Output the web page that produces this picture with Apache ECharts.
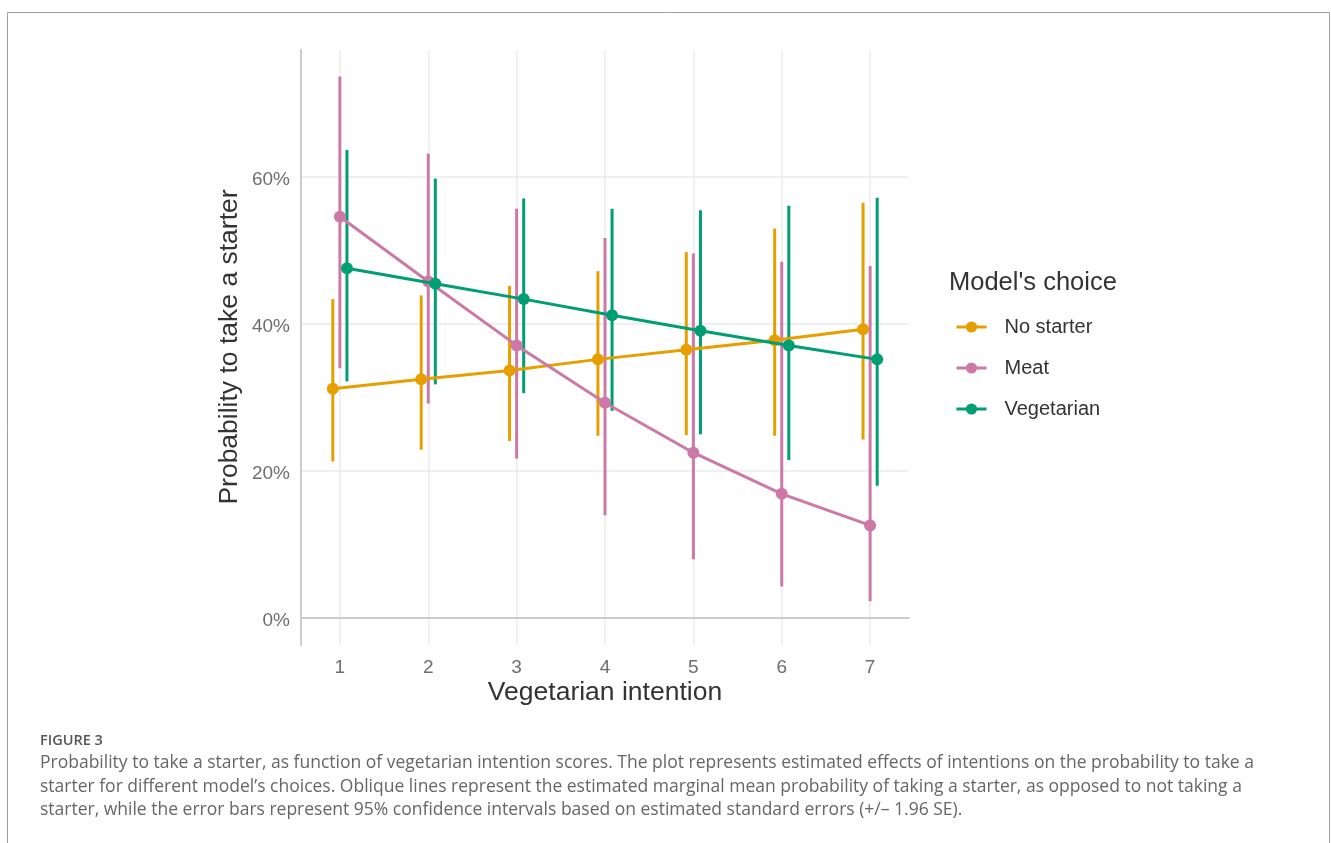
<!DOCTYPE html>
<html>
<head>
<meta charset="utf-8">
<script src="https://cdn.jsdelivr.net/npm/echarts@6/dist/echarts.min.js"></script>
<style>html,body{margin:0;padding:0;background:#fff;}#c{width:1331px;height:843px;}</style>
</head>
<body>
<div id="c"></div>
<script>
// ---- data (percent) ----
const intention = [1, 2, 3, 4, 5, 6, 7];
const seriesNames = ['No starter', 'Meat', 'Vegetarian'];
const noStarterMean = [31.2, 32.5, 33.7, 35.2, 36.5, 37.8, 39.3];
const noStarterLow  = [21.3, 22.9, 24.1, 24.8, 24.9, 24.8, 24.3];
const noStarterHigh = [43.4, 43.9, 45.2, 47.2, 49.8, 53.0, 56.5];
const meatMean = [54.6, 45.8, 37.1, 29.3, 22.5, 16.9, 12.6];
const meatLow  = [34.0, 29.2, 21.7, 14.0, 8.0, 4.3, 2.3];
const meatHigh = [73.7, 63.2, 55.7, 51.7, 49.6, 48.5, 47.9];
const vegMean = [47.6, 45.5, 43.4, 41.2, 39.1, 37.1, 35.2];
const vegLow  = [32.2, 31.8, 30.6, 28.2, 25.0, 21.5, 18.0];
const vegHigh = [63.7, 59.8, 57.1, 55.7, 55.5, 56.1, 57.2];
const yTicks = [0, 20, 40, 60];

// ---- styling / layout ----
const colors = ['#E69F00', '#CC79A7', '#009E73'];
const dodge = [-0.08, 0, 0.08];
const means = [noStarterMean, meatMean, vegMean];
const lows = [noStarterLow, meatLow, vegLow];
const highs = [noStarterHigh, meatHigh, vegHigh];
const sans = '"Liberation Sans", Arial, sans-serif';
const captionFont = '"Open Sans", Lato, sans-serif';

const series = [];
series.push({
  type: 'line', name: '_grid', data: [], silent: true, z: 0,
  markLine: {
    silent: true, symbol: 'none', label: {show: false}, z: 0, zlevel: 0,
    lineStyle: {color: '#ebebeb', width: 1.5, type: 'solid'},
    emphasis: {disabled: true},
    data: intention.map(v => ({xAxis: v})).concat(yTicks.map(v => ({yAxis: v})))
  }
});
seriesNames.forEach((name, s) => {
  series.push({
    type: 'custom', name: name + ' CI', z: 2, silent: true,
    data: intention.map((x, i) => [x + dodge[s], lows[s][i], highs[s][i]]),
    encode: {x: 0, y: [1, 2]},
    renderItem: function (params, api) {
      const p1 = api.coord([api.value(0), api.value(1)]);
      const p2 = api.coord([api.value(0), api.value(2)]);
      return {type: 'line', shape: {x1: p1[0], y1: p1[1], x2: p2[0], y2: p2[1]},
        style: {stroke: colors[s], lineWidth: 3}};
    }
  });
});
seriesNames.forEach((name, s) => {
  series.push({
    type: 'line', name: name, z: 3 + s,
    data: intention.map((x, i) => [x + dodge[s], means[s][i]]),
    symbol: 'circle', symbolSize: 12,
    itemStyle: {color: colors[s]},
    lineStyle: {color: colors[s], width: 3},
    emphasis: {disabled: true}
  });
});

const chart = echarts.init(document.getElementById('c'), null, {renderer: 'canvas'});
chart.setOption({
  animation: false,
  backgroundColor: '#fff',
  color: colors,
  textStyle: {fontFamily: sans},
  grid: {left: 301, top: 50, width: 608, height: 595, containLabel: false},
  xAxis: {
    type: 'value', min: 0.56, max: 7.44,
    axisLine: {show: true, lineStyle: {color: '#cccccc', width: 2}},
    axisTick: {show: false},
    splitLine: {show: false},
    axisLabel: {customValues: intention, color: '#6e6e6e', fontSize: 19, margin: 13, fontFamily: sans}
  },
  yAxis: {
    type: 'value', min: -3.67, max: 77.3,
    axisLine: {show: true, lineStyle: {color: '#cccccc', width: 2}},
    axisTick: {show: false},
    splitLine: {show: false},
    axisLabel: {customValues: yTicks, formatter: '{t|{value}%}', color: '#6e6e6e', fontSize: 19, margin: 11,
      fontFamily: sans,
      rich: {t: {color: '#6e6e6e', fontSize: 19, fontFamily: sans, padding: [6, 0, 0, 0]}}}
  },
  legend: {
    data: seriesNames, orient: 'vertical', left: 955, top: 316, padding: 0,
    itemWidth: 30, itemHeight: 14, itemGap: 19, selectedMode: false,
    lineStyle: {width: 3},
    textStyle: {fontSize: 20, color: '#333', lineHeight: 22, padding: [0, 0, 0, 13], fontFamily: sans}
  },
  title: {
    text: "Model's choice", left: 949, top: 270, padding: 0,
    textStyle: {fontSize: 25.5, fontWeight: 'normal', color: '#333', fontFamily: sans}
  },
  graphic: [
    {type: 'polyline', silent: true, shape: {points: [[7.5, 850], [7.5, 12.5], [1329.5, 12.5], [1329.5, 850]]},
      style: {stroke: '#a0a0a0', lineWidth: 1, fill: null}},
    {type: 'text', x: 230, y: 347, rotation: Math.PI / 2, silent: true,
      style: {text: 'Probability to take a starter', fontSize: 26.5, fill: '#333', align: 'center', verticalAlign: 'middle', fontFamily: sans}},
    {type: 'text', x: 605, y: 693, silent: true,
      style: {text: 'Vegetarian intention', fontSize: 26.5, fill: '#333', align: 'center', verticalAlign: 'middle', fontFamily: sans}},
    {type: 'text', x: 40, y: 741, silent: true,
      style: {text: 'FIGURE 3', fontSize: 14.5, fontWeight: 600, fill: '#555', align: 'left', verticalAlign: 'middle', fontFamily: captionFont}},
    {type: 'text', x: 40, y: 763, silent: true,
      style: {text: 'Probability to take a starter, as function of vegetarian intention scores. The plot represents estimated effects of intentions on the probability to take a',
        fontSize: 17.5, fill: '#666', align: 'left', verticalAlign: 'middle', fontFamily: captionFont}},
    {type: 'text', x: 40, y: 787, silent: true,
      style: {text: 'starter for different model\u2019s choices. Oblique lines represent the estimated marginal mean probability of taking a starter, as opposed to not taking a',
        fontSize: 17.5, fill: '#666', align: 'left', verticalAlign: 'middle', fontFamily: captionFont}},
    {type: 'text', x: 40, y: 810, silent: true,
      style: {text: 'starter, while the error bars represent 95% confidence intervals based on estimated standard errors (+/\u2013 1.96 SE).',
        fontSize: 17.5, fill: '#666', align: 'left', verticalAlign: 'middle', fontFamily: captionFont}}
  ],
  series: series
});
</script>
</body>
</html>
